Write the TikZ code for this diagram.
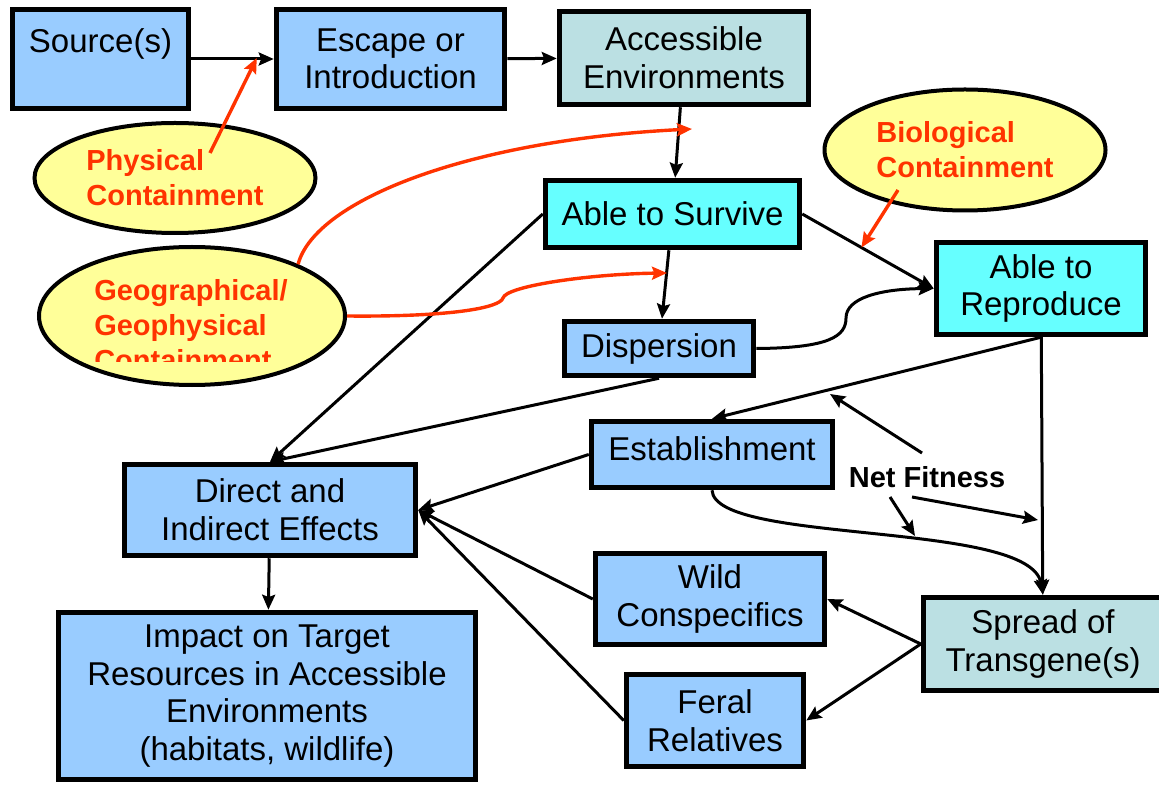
\documentclass[tikz,border=0pt]{standalone}
\usepackage{fontspec}
\setmainfont{Liberation Sans}
\usepackage{tikz}
\usetikzlibrary{
  arrows.meta,
  shapes.geometric,
  chains,
  positioning,
  scopes,
  calc
}
\definecolor{stageblue}{HTML}{99CCFF}
\definecolor{stageteal}{HTML}{BBE0E3}
\definecolor{stagecyan}{HTML}{66FFFF}
\definecolor{barrieryellow}{HTML}{FFFF99}
\definecolor{barrierred}{HTML}{FF3300}

\begin{document}
\begin{tikzpicture}[
      x=0.5pt, y=-0.5pt,
      stage/.style={
         rectangle,
         line width=2.75pt,
         draw=black,
         fill=stageblue,
         inner sep=0pt,
         align=center,
         font=\fontsize{16.5}{18.8}\selectfont
      },
      outcome/.style={stage, fill=stageteal},
      fitness/.style={stage, fill=stagecyan},
      barrier/.style={
         ellipse,
         line width=2pt,
         draw=black,
         fill=barrieryellow,
         inner sep=0pt,
         align=left,
         text=barrierred,
         font=\fontsize{14.5}{17.5}\selectfont\bfseries
      },
      >={Stealth[length=7.5pt,width=6.5pt,inset=1.2pt]},line width=1.5pt,
      tip/.style={->,shorten >=0.007pt},
      redtip/.style={->,draw=barrierred,line width=1.7pt},
    ]
    \useasboundingbox (0,0) rectangle (1159,785);
    % stages
    \node (n11) [stage, minimum width=88pt, minimum height=49.5pt] at (100.5,59) {Source(s)\\\mbox{}};
    \node (n12) [stage, minimum width=114pt, minimum height=49.5pt] at (390.5,59) {Escape or\\Introduction};
    \node (n13) [outcome, minimum width=124.5pt, minimum height=46.5pt] at (684,58) {Accessible\\Environments};
    \node (n24) [fitness, minimum width=127pt, minimum height=33.5pt] at (672.5,214) {Able to Survive};
    \node (n25) [fitness, minimum width=104.5pt, minimum height=46pt] at (1041,288.5) {Able to\\Reproduce};
    \node (n34) [stage, minimum width=94.5pt, minimum height=27pt] at (659,348.5) {Dispersion};
    \node (n44) [stage, minimum width=120.5pt, minimum height=33pt] at (712,454.5) {Establishment\\[-12.5pt]\mbox{}};
    \node (n42) [stage, minimum width=145.5pt, minimum height=45.5pt] at (270,510) {Direct and\\Indirect Effects};
    \node (n52) [stage, minimum width=208.5pt, minimum height=83.5pt] at (267,696) {Impact on Target\\Resources in Accessible\\Environments\\(habitats, wildlife)};
    \node (n54) [stage, minimum width=114.5pt, minimum height=45.5pt] at (710,599) {Wild\\Conspecifics};
    \node (n64) [stage, minimum width=88.5pt, minimum height=46pt] at (715,720.5) {Feral\\Relatives};
    \node (n56) [outcome, minimum width=119.5pt, minimum height=46.5pt] at (1043,644) {Spread of\\Transgene(s)};
    % containment
    \node (e21) [barrier, minimum width=140.5pt, minimum height=55pt] at (175,178) {Physical\\Containment};
    \node (e31) [barrier, minimum width=153pt, minimum height=69pt] at (192,316) {};
    \begin{scope}
      \clip (40,250) rectangle (340,362);
      \node (t31) [barrier, draw=none, fill=none] at (191,325) {Geographical/\\Geophysical\\Containment};
    \end{scope}
    \node (e26) [barrier, minimum width=140.5pt, minimum height=60.5pt] at (965,150) {Biological\\Containment};
    \node (nf) [font=\fontsize{14.5}{17.5}\selectfont\bfseries, inner sep=0pt] at (927,477) {Net Fitness};
    \coordinate (c1) at ($(n12.west)+(-17,-1)$);
    \coordinate (c2) at (692,129);
    \coordinate (c3) at (667,273);
    \coordinate (c4) at ($(n24.east)!0.45!(n25.west)$);
    \coordinate (f1) at (830,394);
    \coordinate (f2) at (915,536);
    \coordinate (f3) at (1038,520);
  { [start chain]
       \chainin (n11);
       \chainin (n12)    [join=by tip];
  }
  { [start chain]
       \chainin (n12);
       \chainin (n13)    [join=by tip];
  }
  { [start chain]
       \chainin (n13);
       \chainin (n24)    [join=by tip];
  }
  { [start chain]
       \chainin (n24);
       \chainin (n34)    [join=by tip];
  }
  { [start chain]
       \chainin (n25);
       \chainin (n56)    [join=by tip];
  }
  { [start chain]
       \chainin (n42);
       \chainin (n52)    [join=by tip];
  }
    \draw[tip] (n24.west) -- (n42.north);
    \draw[tip] (n34.south) -- (n42.north);
    \draw[tip] (n24.east) -- (n25.west);
    \draw[tip] (n34.east) .. controls (830,348) and (846,336) .. (846,318)
                          .. controls (846,298) and (880,289) .. (n25.west);
    \draw[tip] (n25.south) -- (n44.north);
    \draw[tip] (n44.south) .. controls (715,545) and (1030,520) .. (n56.north);
    \draw[tip] (n44.west) -- (n42.east);
    \draw[tip] (n54.west) -- (n42.east);
    \draw[tip] (n64.west) -- (n42.east);
    \draw[tip] (n56.west) -- (n54.east);
    \draw[tip] (n56.west) -- (n64.east);
    % containment arrows
    \draw[redtip] ($(e21)+(35,-25)$) -- (c1);
    \draw[redtip] (e31.26) .. controls (315,200) and (470,140) .. (c2);
    \draw[redtip] (e31.east) .. controls (450,317) and (500,308) .. (503,298)
                             .. controls (506,286) and (590,274) .. (c3);
    \draw[redtip] ($(e26)+(-67,40)$) -- (c4);
    % net fitness
    \draw[tip] ($(nf)+(-5,-24)$) -- (f1);
    \draw[tip] ($(nf)+(-37,20)$) -- (f2);
    \draw[tip] ($(nf)+(-15,20)$) -- (f3);
\end{tikzpicture}
\end{document}
